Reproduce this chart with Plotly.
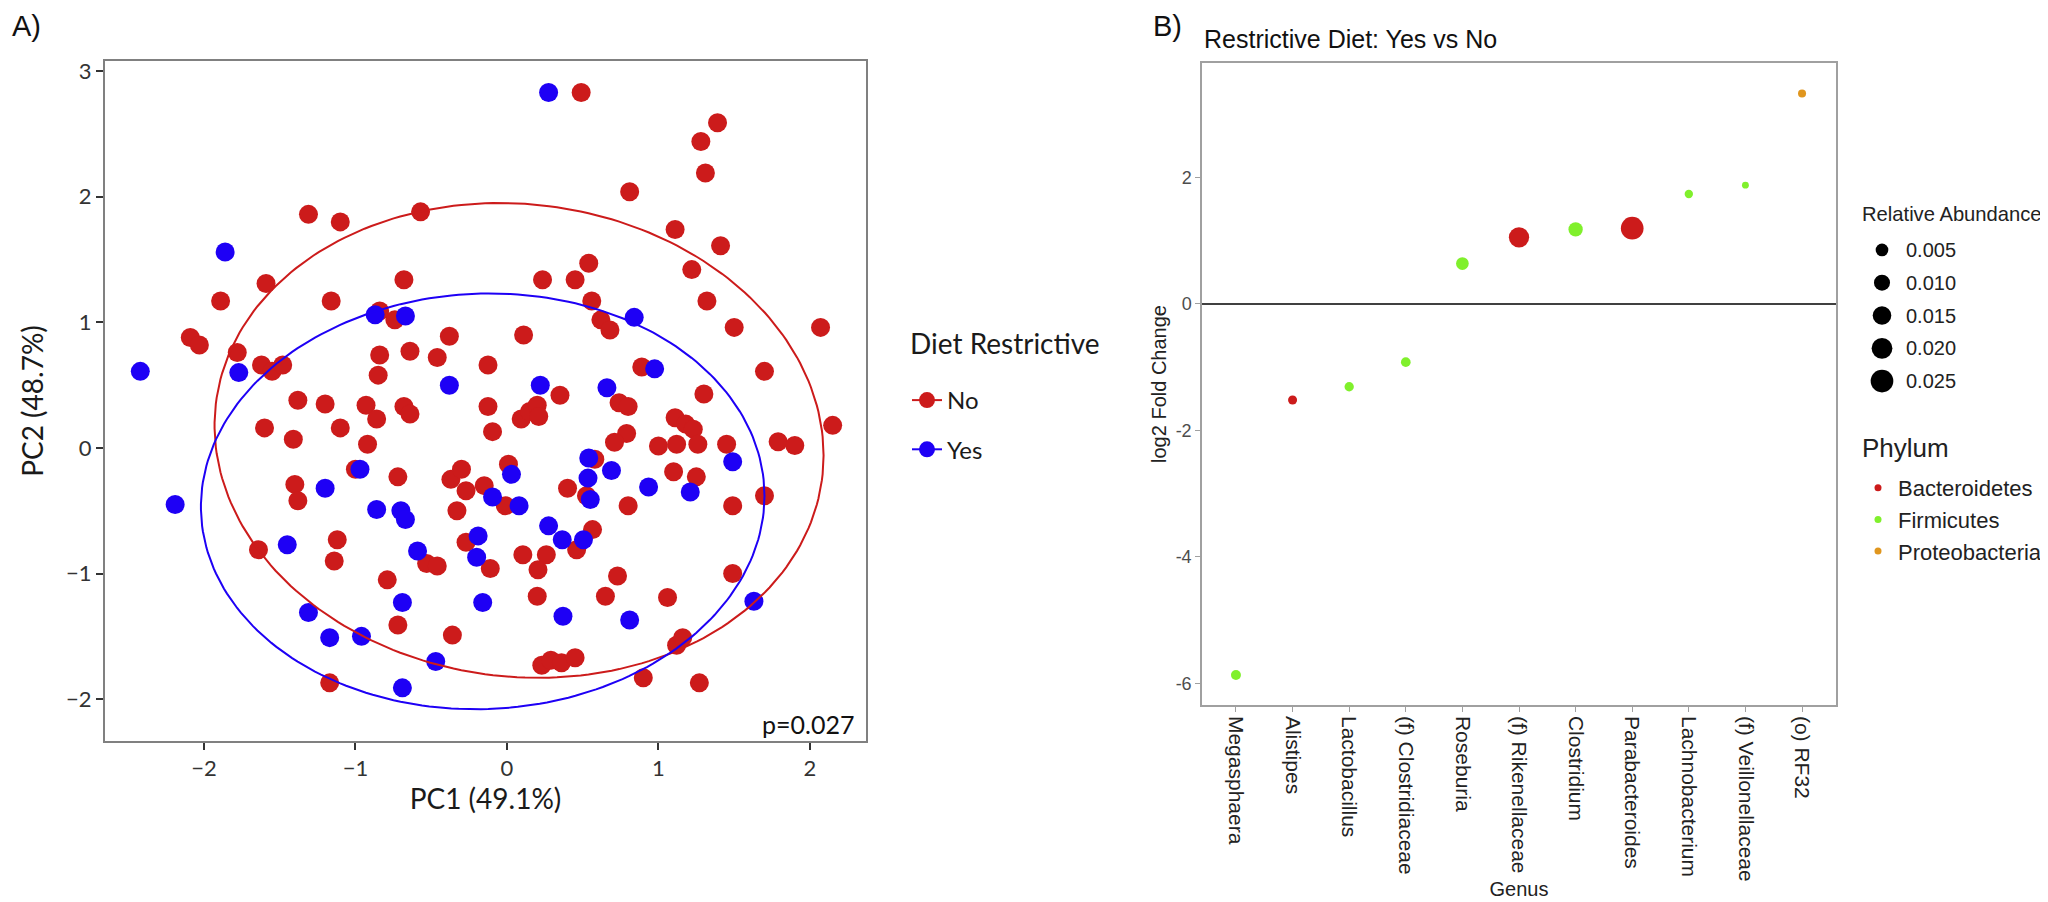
import numpy as np
import plotly.graph_objects as go

# ---------------- Panel A data (PCA scores) ----------------
no_pc1 = [0.49, 1.39, 1.28, 1.31, 0.81, -1.31, -1.10, -0.57, 1.11, 1.41,
          -1.59, 0.54, 1.22, -1.89, -1.16, -0.68, 0.235, 0.45, 0.56, 1.32,
          -0.84, -0.74, 0.62, 0.68, 1.50, 2.07, -2.09, -2.03, -1.78, -1.62,
          -1.55, -1.48, -0.38, 0.11, -0.84, -0.85, -0.64, -0.46, -0.125, 0.89,
          1.70, 0.35, 1.30, 0.74, 0.80, -1.38, -1.20, -0.93, -0.86, -0.68,
          -0.64, -1.60, -1.41, -1.10, -0.92, -0.125, -0.095, 0.094, 0.15, 0.20,
          0.21, 1.11, 1.18, 1.23, 0.79, 0.71, 1.00, 1.12, 1.26, 1.45,
          1.79, 1.90, 2.15, 1.10, 1.25, 0.80, 1.49, 1.70, -1.00, -1.40,
          -1.38, -0.72, -0.37, -0.30, -0.27, -0.15, -0.33, -0.01, 0.01, 0.40,
          0.58, 0.525, -1.64, -1.12, -1.14, -0.53, -0.46, -0.79, -0.27, -0.11,
          0.105, 0.26, 0.205, 0.565, 0.46, 0.73, 1.49, 1.06, -0.72, -0.36,
          0.20, 0.65, 1.12, 1.16, -1.17, 0.23, 0.29, 0.36, 0.45, 0.90, 1.27]
no_pc2 = [2.83, 2.59, 2.44, 2.19, 2.04, 1.86, 1.80, 1.88, 1.74, 1.61,
          1.31, 1.47, 1.42, 1.17, 1.17, 1.34, 1.34, 1.34, 1.17, 1.17,
          1.09, 1.02, 1.02, 0.94, 0.96, 0.96, 0.88, 0.82, 0.76, 0.66,
          0.61, 0.66, 0.89, 0.90, 0.74, 0.58, 0.77, 0.72, 0.66, 0.645,
          0.61, 0.42, 0.43, 0.36, 0.33, 0.38, 0.35, 0.34, 0.23, 0.33,
          0.27, 0.16, 0.07, 0.16, 0.03, 0.33, 0.13, 0.23, 0.29, 0.34,
          0.25, 0.24, 0.19, 0.15, 0.115, 0.045, 0.015, 0.03, 0.03, 0.03,
          0.05, 0.02, 0.18, -0.19, -0.23, -0.46, -0.46, -0.38, -0.17, -0.29,
          -0.42, -0.23, -0.25, -0.17, -0.34, -0.30, -0.50, -0.46, -0.13, -0.32,
          -0.09, -0.38, -0.81, -0.73, -0.90, -0.92, -0.94, -1.05, -0.75, -0.96,
          -0.85, -0.85, -0.97, -0.65, -0.81, -1.02, -1.00, -1.19, -1.41, -1.49,
          -1.18, -1.18, -1.57, -1.51, -1.87, -1.73, -1.69, -1.71, -1.67, -1.83, -1.87]

yes_pc1 = [0.275, -1.86, -0.87, -0.67, 0.84, -1.77, -2.42, -0.38, 0.22, 0.66,
           0.975, 1.49, 0.69, 1.21, 0.935, 1.63, -0.97, -1.20, -2.19, -0.86,
           -0.70, -0.67, -0.095, 0.08, 0.03, 0.54, 0.535, 0.55, -1.45, -0.59,
           -0.19, -0.20, 0.275, 0.365, 0.505, -0.69, -1.31, -1.17, -0.96, -0.16,
           0.37, 0.81, -0.47, -0.69]
yes_pc2 = [2.83, 1.56, 1.06, 1.05, 1.04, 0.60, 0.61, 0.50, 0.50, 0.48,
           0.63, -0.11, -0.18, -0.35, -0.31, -1.22, -0.17, -0.32, -0.45, -0.49,
           -0.50, -0.57, -0.39, -0.46, -0.21, -0.08, -0.24, -0.41, -0.77, -0.82,
           -0.70, -0.87, -0.62, -0.73, -0.73, -1.23, -1.31, -1.51, -1.50, -1.23,
           -1.34, -1.37, -1.70, -1.91]

# 95% ellipses: centre, half-extents and covariance term
ell_groups = ["No", "Yes"]
ell_cx = [0.08, -0.16]
ell_cy = [0.06, -0.425]
ell_hx = [2.01, 1.86]
ell_hy = [1.89, 1.655]
ell_cxy = [-0.24, 0.08]

pc1_ticks = [-2, -1, 0, 1, 2]
pc2_ticks = [-2, -1, 0, 1, 2, 3]

# ---------------- Panel B data (differential abundance) ----------------
genus = ["Megasphaera", "Alistipes", "Lactobacillus", "(f) Clostridiaceae",
         "Roseburia", "(f) Rikenellaceae", "Clostridium", "Parabacteroides",
         "Lachnobacterium", "(f) Veillonellaceae", "(o) RF32"]
log2fc = [-5.87, -1.52, -1.31, -0.92, 0.64, 1.055, 1.18, 1.20, 1.74, 1.88, 3.33]
rel_abund = [0.0022, 0.0015, 0.0017, 0.0020, 0.0050, 0.0188, 0.0072, 0.0250,
             0.0011, 0.0004, 0.0009]
phylum = ["Firmicutes", "Bacteroidetes", "Firmicutes", "Firmicutes", "Firmicutes",
          "Bacteroidetes", "Firmicutes", "Bacteroidetes", "Firmicutes", "Firmicutes",
          "Proteobacteria"]
phyla = ["Bacteroidetes", "Firmicutes", "Proteobacteria"]
size_breaks = [0.005, 0.010, 0.015, 0.020, 0.025]
size_labels = ["0.005", "0.010", "0.015", "0.020", "0.025"]
fc_ticks = [-6, -4, -2, 0, 2]
fc_ticklabels = ["-6", "-4", "-2", "0", "2"]

# ---------------- styles ----------------
RED = "#CC1B1B"
BLUE = "#1E00F5"
PHYLUM_COL = {"Bacteroidetes": "#CC1B1B", "Firmicutes": "#80F02C", "Proteobacteria": "#E0961E"}
FA = "Lato, Open Sans, sans-serif"
FB = "Liberation Sans, Arial, sans-serif"
W, H = 2048, 902


def px_x(p):
    return p / W


def px_y(p):
    return 1 - p / H


def abund_size(v):
    # area-style size scale (diameter linear in sqrt of abundance)
    return 4.6 + 114.4 * np.sqrt(np.asarray(v, dtype=float))


def ellipse(cx, cy, hx, hy, cxy, n=240):
    S = np.array([[hx ** 2, cxy], [cxy, hy ** 2]])
    L = np.linalg.cholesky(S)
    t = np.linspace(0, 2 * np.pi, n)
    pts = L @ np.vstack([np.cos(t), np.sin(t)])
    return cx + pts[0], cy + pts[1]


fig = go.Figure()

# ---- panel A points
fig.add_trace(go.Scatter(x=no_pc1, y=no_pc2, mode="markers", xaxis="x", yaxis="y",
                         marker=dict(size=19, color=RED, opacity=1, line=dict(width=0)),
                         showlegend=False, hoverinfo="skip"))
fig.add_trace(go.Scatter(x=yes_pc1, y=yes_pc2, mode="markers", xaxis="x", yaxis="y",
                         marker=dict(size=19, color=BLUE, opacity=1, line=dict(width=0)),
                         showlegend=False, hoverinfo="skip"))
# ---- ellipses
for g, cx, cy, hx, hy, cxy in zip(ell_groups, ell_cx, ell_cy, ell_hx, ell_hy, ell_cxy):
    ex, ey = ellipse(cx, cy, hx, hy, cxy)
    fig.add_trace(go.Scatter(x=ex, y=ey, mode="lines", xaxis="x", yaxis="y",
                             line=dict(color=RED if g == "No" else BLUE, width=2),
                             showlegend=False, hoverinfo="skip"))
# ---- legend A
for g in ell_groups:
    col = RED if g == "No" else BLUE
    fig.add_trace(go.Scatter(x=[None], y=[None], mode="lines+markers", name=g,
                             xaxis="x", yaxis="y", legend="legend", legendgroup=g,
                             line=dict(color=col, width=2),
                             marker=dict(size=19, color=col, opacity=1)))

# ---- panel B points
for ph in phyla:
    idx = [i for i, p in enumerate(phylum) if p == ph]
    fig.add_trace(go.Scatter(x=[genus[i] for i in idx], y=[log2fc[i] for i in idx],
                             mode="markers", xaxis="x2", yaxis="y2",
                             marker=dict(size=abund_size([rel_abund[i] for i in idx]),
                                         color=PHYLUM_COL[ph], opacity=1,
                                         line=dict(width=0)),
                             showlegend=False, hoverinfo="skip"))
# ---- Phylum legend
for ph in phyla:
    fig.add_trace(go.Scatter(x=[None], y=[None], mode="markers", name=ph,
                             xaxis="x2", yaxis="y2", legend="legend3", legendgroup=ph,
                             marker=dict(size=7, color=PHYLUM_COL[ph], opacity=1)))
# ---- Relative abundance key (drawn on its own small axis)
fig.add_trace(go.Scatter(x=[0] * len(size_breaks), y=size_labels, mode="markers",
                         xaxis="x3", yaxis="y3", cliponaxis=False,
                         marker=dict(size=abund_size(size_breaks), color="black", opacity=1,
                                     line=dict(width=0)),
                         showlegend=False, hoverinfo="skip"))

axA = dict(showgrid=False, zeroline=False, showline=True, mirror=True,
           linecolor="#808080", linewidth=2, ticks="outside", ticklen=7,
           tickwidth=2, tickcolor="#333333",
           tickfont=dict(family=FA, size=22, color="#333333"), automargin=False)
axB = dict(showgrid=False, zeroline=False, showline=True, mirror=True,
           linecolor="#a0a0a0", linewidth=1.5, ticks="outside", ticklen=5,
           tickwidth=1, tickcolor="#a0a0a0", automargin=False)

fig.update_layout(
    width=W, height=H, paper_bgcolor="white", plot_bgcolor="white",
    margin=dict(l=0, r=0, t=0, b=0, autoexpand=False),
    xaxis=dict(axA, domain=[px_x(97), px_x(858)], range=[-2.653, 2.370],
               tickvals=pc1_ticks, anchor="y",
               title=dict(text="PC1 (49.1%)", font=dict(family=FA, size=28, color="#1a1a1a"),
                          standoff=8)),
    yaxis=dict(axA, domain=[px_y(733), px_y(53)], range=[-2.333, 3.081],
               tickvals=pc2_ticks, anchor="x",
               title=dict(text="PC2 (48.7%)", font=dict(family=FA, size=28, color="#1a1a1a"),
                          standoff=14)),
    xaxis2=dict(axB, domain=[px_x(1194), px_x(1828)], type="category",
                categoryorder="array", categoryarray=genus, range=[-0.6, 10.6],
                anchor="y2", tickangle=90,
                tickfont=dict(family=FB, size=21, color="#222222"),
                title=dict(text="Genus", font=dict(family=FB, size=20, color="#222222"),
                           standoff=1)),
    yaxis2=dict(axB, domain=[px_y(697), px_y(55)], range=[-6.345, 3.813],
                tickvals=fc_ticks, ticktext=fc_ticklabels, anchor="x2",
                tickfont=dict(family=FB, size=18, color="#4d4d4d"),
                title=dict(text="log2 Fold Change", font=dict(family=FB, size=20, color="#222222"),
                           standoff=4)),
    xaxis3=dict(domain=[px_x(1868), px_x(1880)], range=[-1, 1], visible=False,
                anchor="y3", fixedrange=True),
    yaxis3=dict(domain=[px_y(389.5), px_y(225.5)], type="category",
                categoryorder="array", categoryarray=size_labels, range=[4.5, -0.5],
                anchor="x3", side="right", showline=False, showgrid=False,
                zeroline=False, ticks="", ticklabelstandoff=17,
                tickfont=dict(family=FB, size=20, color="#222222"), automargin=False),
    legend=dict(x=px_x(899), y=px_y(370), xanchor="left", yanchor="top",
                bgcolor="rgba(0,0,0,0)", traceorder="grouped", tracegroupgap=15,
                font=dict(family=FA, size=24, color="#1a1a1a")),
    legend3=dict(x=px_x(1850), y=px_y(459), xanchor="left", yanchor="top",
                 bgcolor="rgba(0,0,0,0)", traceorder="grouped", tracegroupgap=0,
                 font=dict(family=FB, size=22, color="#222222")),
    annotations=[
        dict(text="A)", x=px_x(2), y=px_y(18), xref="paper", yref="paper",
             xanchor="left", yanchor="middle", showarrow=False,
             font=dict(family=FB, size=29, color="#111111")),
        dict(text="B)", x=px_x(1143), y=px_y(18), xref="paper", yref="paper",
             xanchor="left", yanchor="middle", showarrow=False,
             font=dict(family=FB, size=29, color="#111111")),
        dict(text="Restrictive Diet: Yes vs No", x=px_x(1194), y=px_y(31),
             xref="paper", yref="paper", xanchor="left", yanchor="middle",
             showarrow=False, font=dict(family=FB, size=25, color="#111111")),
        dict(text="Diet Restrictive", x=px_x(900), y=px_y(335),
             xref="paper", yref="paper", xanchor="left", yanchor="middle",
             showarrow=False, font=dict(family=FA, size=28, color="#1a1a1a")),
        dict(text="Relative Abundance", x=px_x(1852), y=px_y(206),
             xref="paper", yref="paper", xanchor="left", yanchor="middle",
             showarrow=False, font=dict(family=FB, size=20.2, color="#222222")),
        dict(text="Phylum", x=px_x(1852), y=px_y(440),
             xref="paper", yref="paper", xanchor="left", yanchor="middle",
             showarrow=False, font=dict(family=FB, size=26, color="#222222")),
        dict(text="p=0.027", x=px_x(848), y=px_y(716), xref="paper", yref="paper",
             xanchor="right", yanchor="middle", showarrow=False,
             font=dict(family=FA, size=25, color="#111111")),
    ],
    shapes=[dict(type="line", xref="x2 domain", yref="y2", x0=0, x1=1, y0=0, y1=0,
                 line=dict(color="black", width=1.5), layer="above")],
)

fig.write_html("out.html")
